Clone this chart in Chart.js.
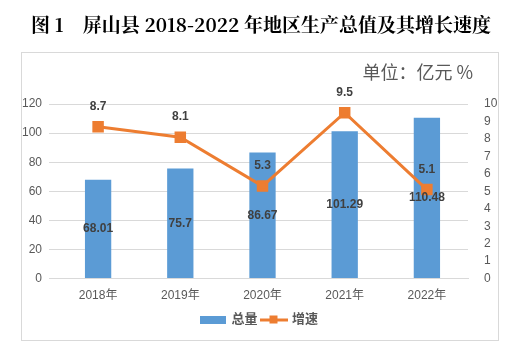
<!DOCTYPE html>
<html>
<head>
<meta charset="utf-8">
<script src="https://cdn.jsdelivr.net/npm/chart.js@4.4.0/dist/chart.umd.min.js"></script>
<style>
  html, body { margin: 0; padding: 0; background: #fff; }
  #wrap { width: 526px; height: 354px; }
</style>
</head>
<body>
<div id="wrap"><canvas id="canvas" width="526" height="354"></canvas></div>
<script>
const years = ['2018年', '2019年', '2020年', '2021年', '2022年'];
const total = [68.01, 75.7, 86.67, 101.29, 110.48];
const growth = [8.7, 8.1, 5.3, 9.5, 5.1];
const leftTicks = [0, 20, 40, 60, 80, 100, 120];
const rightTicks = [0, 1, 2, 3, 4, 5, 6, 7, 8, 9, 10];

const FONT = "'Liberation Sans', 'Noto Sans CJK SC', sans-serif";
const BLUE = '#5B9BD5';
const ORANGE = '#ED7D31';

// legend icons
function barIcon() {
  const c = document.createElement('canvas');
  c.width = 26; c.height = 8;
  const g = c.getContext('2d');
  g.fillStyle = BLUE;
  g.fillRect(0, 0, 26, 8);
  return c;
}
function lineIcon() {
  const c = document.createElement('canvas');
  c.width = 28; c.height = 10;
  const g = c.getContext('2d');
  g.fillStyle = ORANGE;
  g.fillRect(0, 4, 28, 3);
  g.fillRect(10, 1, 8, 8);
  return c;
}

const frame = {
  id: 'frame',
  beforeDraw(chart) {
    const c = chart.ctx;
    c.save();
    c.fillStyle = '#fff';
    c.fillRect(0, 0, chart.width, chart.height);
    c.strokeStyle = '#D9D9D9';
    c.lineWidth = 1;
    c.strokeRect(21.5, 52.5, 477, 288);
    c.fillStyle = '#000';
    c.font = "bold 19px 'Noto Serif CJK SC', 'Noto Sans CJK SC', serif";
    c.textAlign = 'center';
    c.textBaseline = 'middle';
    c.fillText('图 1　屏山县 2018-2022 年地区生产总值及其增长速度', 261, 25);
    c.fillStyle = '#595959';
    c.font = "18px 'Noto Sans CJK SC', sans-serif";
    c.textAlign = 'right';
    c.fillText('单位：亿元 %', 473, 72);
    c.restore();
  },
  afterDatasetsDraw(chart) {
    const c = chart.ctx;
    c.save();
    c.fillStyle = '#404040';
    c.font = 'bold 12px ' + FONT;
    c.textAlign = 'center';
    c.textBaseline = 'middle';
    chart.getDatasetMeta(0).data.forEach((el, i) => {
      c.fillText(String(total[i]), el.x, (el.y + el.base) / 2);
    });
    chart.getDatasetMeta(1).data.forEach((el, i) => {
      c.fillText(String(growth[i]), el.x, el.y - 20);
    });
    c.restore();
  }
};

new Chart(document.getElementById('canvas'), {
  type: 'bar',
  data: {
    labels: years,
    datasets: [{
      label: '总量',
      data: total,
      backgroundColor: BLUE,
      yAxisID: 'y',
      barPercentage: 0.64,
      categoryPercentage: 0.5,
      order: 1
    }, {
      type: 'line',
      label: '增速',
      data: growth,
      borderColor: ORANGE,
      backgroundColor: ORANGE,
      borderWidth: 3,
      pointStyle: 'rect',
      pointRadius: 6,
      pointHoverRadius: 6,
      yAxisID: 'y1',
      order: 0
    }]
  },
  options: {
    responsive: false,
    animation: false,
    layout: { padding: { left: 21, right: 28, top: 104, bottom: 18 } },
    plugins: {
      tooltip: { enabled: false },
      legend: {
        position: 'bottom',
        labels: {
          usePointStyle: true,
          pointStyleWidth: 24,
          boxHeight: 10,
          font: { size: 13, family: FONT, weight: 'bold' },
          color: '#595959',
          padding: 4,
          generateLabels(chart) {
            return [
              { text: '总量', pointStyle: barIcon(), datasetIndex: 0, fillStyle: BLUE, strokeStyle: BLUE, lineWidth: 0, hidden: false, fontColor: '#595959' },
              { text: '增速', pointStyle: lineIcon(), datasetIndex: 1, fillStyle: ORANGE, strokeStyle: ORANGE, lineWidth: 0, hidden: false, fontColor: '#595959' }
            ];
          }
        }
      }
    },
    scales: {
      x: {
        afterFit(s) { s.height += 4; },
        grid: { display: false },
        border: { color: '#D9D9D9' },
        ticks: { color: '#595959', font: { size: 12, family: FONT }, padding: 2 }
      },
      y: {
        position: 'left',
        min: 0, max: 120,
        afterBuildTicks(s) { s.ticks = leftTicks.map(v => ({ value: v })); },
        afterFit(s) { s.width = 36; },
        grid: { color: '#D9D9D9' },
        border: { display: false },
        ticks: { color: '#595959', font: { size: 12, family: FONT }, padding: 7, autoSkip: false }
      },
      y1: {
        position: 'right',
        min: 0, max: 10,
        afterBuildTicks(s) { s.ticks = rightTicks.map(v => ({ value: v })); },
        afterFit(s) { s.width = 30; },
        grid: { display: false },
        border: { display: false },
        ticks: { color: '#595959', font: { size: 12, family: FONT }, padding: 8, autoSkip: false }
      }
    }
  },
  plugins: [frame]
});
</script>
</body>
</html>
